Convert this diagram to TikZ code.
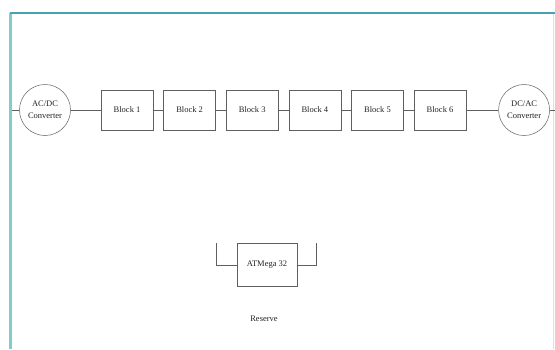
\documentclass[tikz,border=0pt]{standalone}
\usepackage{fontspec}
\setmainfont{Liberation Serif}
\usepackage{tikz}
\usetikzlibrary{positioning,calc}
\definecolor{FrameTeal}{RGB}{72,160,178}
\definecolor{FrameMint}{RGB}{128,206,202}
\definecolor{LineGray}{RGB}{95,95,95}
\definecolor{TextGray}{RGB}{35,35,35}

\begin{document}
\begin{tikzpicture}[
  x=1pt, y=-1pt,
  blk/.style={draw=LineGray, line width=0.6pt, minimum width=52pt, minimum height=40pt, inner sep=0pt, font=\fontsize{8.5}{9.5}\selectfont, text=TextGray},
  conv/.style={draw=LineGray, line width=0.5pt, circle, minimum size=51pt, inner sep=0pt, align=center, font=\fontsize{8.5}{10}\selectfont, text=TextGray},
  wire/.style={LineGray, line width=0.6pt},
  node distance=10pt
]
  \useasboundingbox (0,0) rectangle (555,349);
  % frame
  \draw[FrameMint, line width=2.5pt] (10.5,13) -- (10.5,349);
  \draw[FrameTeal, line width=1.8pt] (9.5,13) -- (555,13);
  \draw[black!12, line width=0.6pt] (553,14) -- (553,349);

  % chain
  \node[conv] (acdc) at (45,110) {AC/DC\\[2pt]Converter};
  \node[blk, right=30pt of acdc] (b1) {Block 1};
  \node[blk, right=of b1] (b2) {Block 2};
  \node[blk, right=of b2] (b3) {Block 3};
  \node[blk, right=of b3] (b4) {Block 4};
  \node[blk, right=of b4] (b5) {Block 5};
  \node[blk, right=of b5] (b6) {Block 6};
  \node[conv, right=32pt of b6] (dcac) {DC/AC\\[2pt]Converter};

  \coordinate (inL) at (12,110);
  \coordinate (outR) at (555,110);
  \draw[wire] (inL) -- (acdc);
  \draw[wire] (acdc) -- (b1);
  \draw[wire] (b1) -- (b2);
  \draw[wire] (b2) -- (b3);
  \draw[wire] (b3) -- (b4);
  \draw[wire] (b4) -- (b5);
  \draw[wire] (b5) -- (b6);
  \draw[wire] (b6) -- (dcac);
  \draw[wire] (dcac) -- (outR);

  % controller
  \node[blk, minimum width=60pt, minimum height=43pt] (atm) at (267,265) {ATMega 32};
  \coordinate (atmL) at (216,243);
  \coordinate (atmR) at (316,243);
  \draw[wire] (atm.west) -| (atmL);
  \draw[wire] (atm.east) -| (atmR);
  \node[font=\fontsize{8.5}{9.5}\selectfont, text=TextGray] (res) at (264,319) {Reserve};
\end{tikzpicture}
\end{document}
